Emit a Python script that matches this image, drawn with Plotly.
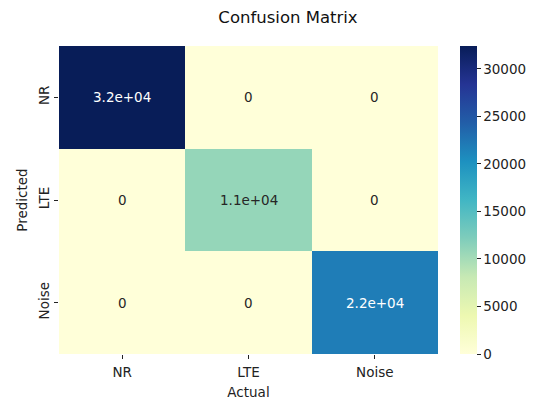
import plotly.graph_objects as go

actual = ["NR", "LTE", "Noise"]
predicted = ["NR", "LTE", "Noise"]
row_nr = [32400, 0, 0]
row_lte = [0, 10900, 0]
row_noise = [0, 0, 21800]
z = [row_nr, row_lte, row_noise]
cbar_ticks = [0, 5000, 10000, 15000, 20000, 25000, 30000]

ylgnbu = ['#ffffd9', '#edf8b1', '#c7e9b4', '#7fcdbb', '#41b6c4',
          '#1d91c0', '#225ea8', '#253494', '#081d58']
cs = [[i / 8, c] for i, c in enumerate(ylgnbu)]

zmax = max(max(r) for r in z)
FS = 13.5

fig = go.Figure(go.Heatmap(
    z=z, x=actual, y=predicted, colorscale=cs, zmin=0, zmax=zmax,
    xgap=0, ygap=0,
    colorbar=dict(
        x=1.058, xanchor="left", xref="paper", y=0.5, yanchor="middle", len=1,
        ypad=0, xpad=0,
        thickness=17, outlinewidth=0, ticks="outside", ticklen=4,
        tickcolor="#222", tickvals=cbar_ticks, tickformat="d",
        tickfont=dict(family="DejaVu Sans", size=FS, color="#222"),
    ),
    hoverinfo="skip",
))


def fmt(v):
    if v == 0:
        return "0"
    s = f"{v:.1e}"
    m, e = s.split("e")
    return f"{m}e+{int(e):02d}"


for i, r in enumerate(z):
    for j, v in enumerate(r):
        color = "white" if v / zmax > 0.6 else "#262626"
        fig.add_annotation(x=actual[j], y=predicted[i], text=fmt(v), showarrow=False,
                           font=dict(family="DejaVu Sans", size=FS, color=color))

fig.update_layout(
    width=528, height=392,
    margin=dict(l=51, r=98, t=38, b=46, autoexpand=False),
    paper_bgcolor="white", plot_bgcolor="white",
    title=dict(text="Confusion Matrix", x=280 / 528, xref="container", y=0.977, yref="container",
               xanchor="center", yanchor="middle",
               font=dict(family="DejaVu Sans", size=16.5, color="#111")),
    font=dict(family="DejaVu Sans", size=FS, color="#222"),
    xaxis=dict(title=dict(text="Actual", standoff=10, font=dict(size=FS)),
               automargin=False, ticklabelstandoff=2,
               ticks="outside", ticklen=4, tickcolor="#222", showgrid=False, zeroline=False,
               showline=False),
    yaxis=dict(title=dict(text="Predicted", standoff=4, font=dict(size=FS)),
               automargin=False, autorange="reversed", tickangle=-90,
               ticks="outside", ticklen=4, tickcolor="#222", showgrid=False, zeroline=False,
               showline=False),
)

fig.write_html("out.html")
